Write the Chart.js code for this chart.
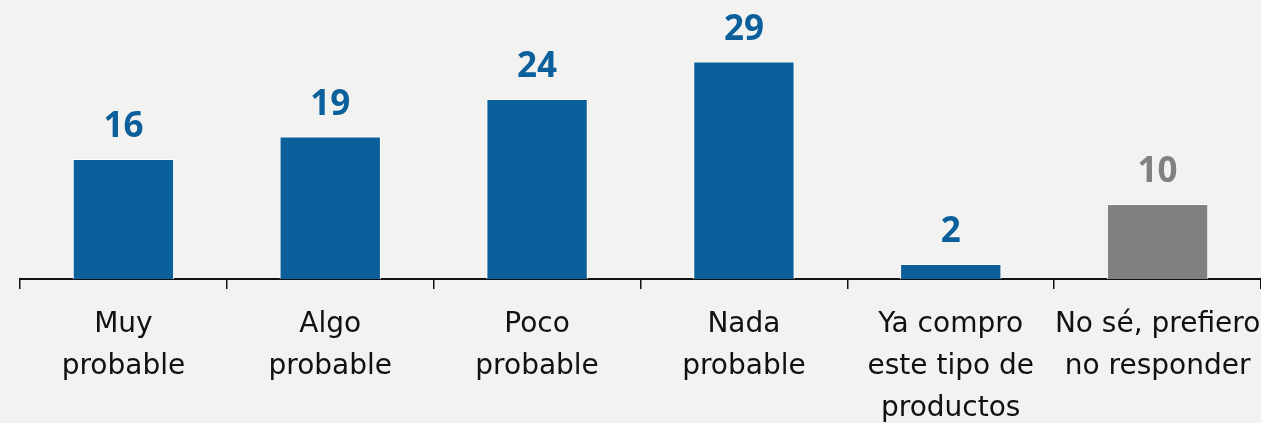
<!DOCTYPE html>
<html>
<head>
<meta charset="utf-8">
<script src="https://cdn.jsdelivr.net/npm/chart.js@4"></script>
<style>
  html, body { margin: 0; padding: 0; background: #f2f2f1; }
  #wrap { width: 1261px; height: 423px; position: relative; }
</style>
</head>
<body>
<div id="wrap"><canvas id="chart"></canvas></div>
<script>
const categories = [
  ['Muy', 'probable'],
  ['Algo', 'probable'],
  ['Poco', 'probable'],
  ['Nada', 'probable'],
  ['Ya compro', 'este tipo de', 'productos'],
  ['No sé, prefiero', 'no responder']
];
const values = [16, 19, 24, 29, 2, 10];
const barColors = ['#0b5f9a', '#0b5f9a', '#0b5f9a', '#0b5f9a', '#0b5f9a', '#808080'];

const labelFont = '"DejaVu Sans", sans-serif';
const valueFont = '"Open Sans", sans-serif';

// value labels above bars
const valueLabels = {
  id: 'valueLabels',
  afterDatasetsDraw(chart) {
    const ctx = chart.ctx;
    const meta = chart.getDatasetMeta(0);
    ctx.save();
    ctx.font = `bold 35px ${valueFont}`;
    ctx.textAlign = 'center';
    ctx.textBaseline = 'alphabetic';
    meta.data.forEach((bar, i) => {
      ctx.fillStyle = barColors[i];
      ctx.fillText(String(values[i]), bar.x, bar.y - 22);
    });
    ctx.restore();
  }
};

new Chart(document.getElementById('chart'), {
  type: 'bar',
  data: {
    labels: categories,
    datasets: [{
      data: values,
      backgroundColor: barColors,
      borderColor: '#ffffff',
      borderWidth: 1,
      categoryPercentage: 1,
      barPercentage: 0.49
    }]
  },
  options: {
    responsive: true,
    maintainAspectRatio: false,
    animation: false,
    layout: { padding: { left: 20, right: 0, top: 0, bottom: 0 } },
    plugins: {
      legend: { display: false },
      tooltip: { enabled: false }
    },
    scales: {
      x: {
        afterFit(scale) {
          scale.height = 144;
          scale.paddingLeft = 0;
          scale.paddingRight = 0;
        },
        grid: {
          display: true,
          offset: true,
          drawOnChartArea: false,
          drawTicks: true,
          tickLength: 10,
          color: '#111111',
          lineWidth: 1.5
        },
        border: { display: true, color: '#111111', width: 2 },
        ticks: {
          color: '#111111',
          padding: 15,
          maxRotation: 0,
          autoSkip: false,
          font: { family: labelFont, size: 28, lineHeight: 1.5 }
        }
      },
      y: {
        display: false,
        min: 0,
        max: 37.2
      }
    }
  },
  plugins: [valueLabels]
});
</script>
</body>
</html>
